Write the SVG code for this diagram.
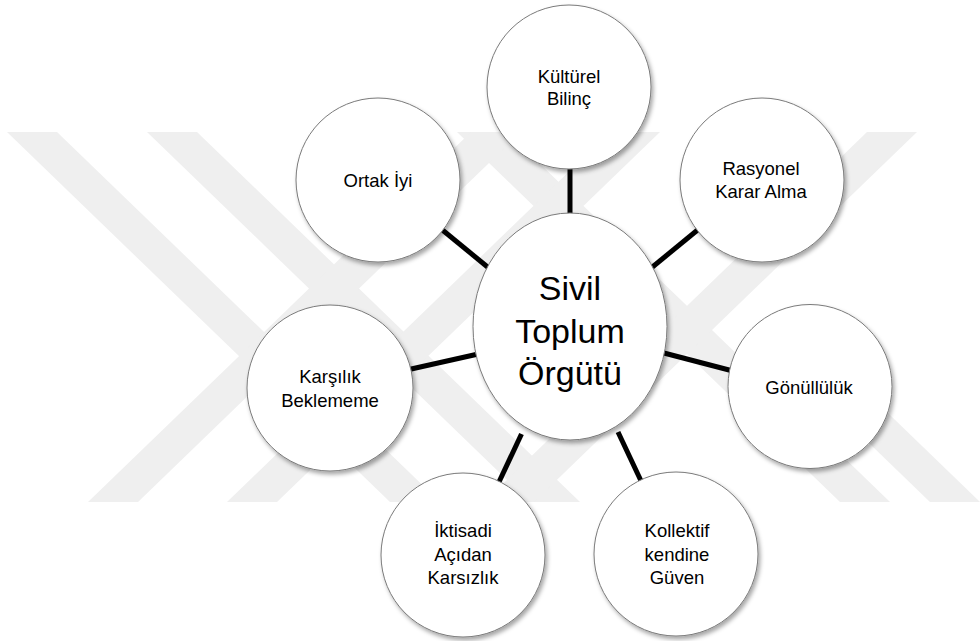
<svg xmlns="http://www.w3.org/2000/svg" width="980" height="641" viewBox="0 0 980 641">
<defs>
<style>
.wm{fill:#efefef;}
.node{fill:#ffffff;stroke:#7a7a7a;stroke-width:1;filter:url(#sh);}
.lbl{font-family:"Liberation Sans",Arial,sans-serif;font-size:18.5px;fill:#000;text-anchor:middle;}
.big{font-family:"Liberation Sans",Arial,sans-serif;font-size:34px;fill:#000;text-anchor:middle;}
.conn{stroke:#000;stroke-width:5;fill:none;}
</style>
<filter id="sh" x="-20%" y="-20%" width="140%" height="140%">
<feDropShadow dx="2" dy="3" stdDeviation="2" flood-color="#000" flood-opacity="0.35"/>
</filter>
<clipPath id="wmclip"><rect x="0" y="132" width="980" height="370"/></clipPath>
</defs>
<rect width="980" height="641" fill="#ffffff"/>
<g id="watermark" clip-path="url(#wmclip)">
<polygon class="wm" points="7,132 57,132 440,502 390,502"/>
<polygon class="wm" points="147,132 197,132 580,502 530,502"/>
<polygon class="wm" points="457,132 507,132 890,502 840,502"/>
<polygon class="wm" points="783,360 833,360 980,502 930,502"/>
<polygon class="wm" points="471,132 521,132 138,502 88,502"/>
<polygon class="wm" points="610,132 660,132 277,502 227,502"/>
<polygon class="wm" points="867,132 917,132 534,502 484,502"/>
</g>
<g id="connectors">
<line class="conn" x1="570" y1="165" x2="570" y2="216"/>
<line class="conn" x1="440" y1="228" x2="490" y2="269"/>
<line class="conn" x1="700" y1="228" x2="650" y2="269"/>
<line class="conn" x1="409" y1="369.5" x2="476" y2="354.5"/>
<line class="conn" x1="662" y1="352.5" x2="731" y2="370.5"/>
<line class="conn" x1="521.5" y1="434" x2="498.5" y2="483"/>
<line class="conn" x1="618" y1="432" x2="642" y2="483"/>
</g>
<g id="node-kulturel">
<circle class="node" cx="569" cy="87" r="82"/>
<text class="lbl" x="569" y="83">Kültürel</text>
<text class="lbl" x="569" y="105">Bilinç</text>
</g>
<g id="node-ortak">
<circle class="node" cx="378" cy="180" r="82"/>
<text class="lbl" x="378" y="187">Ortak İyi</text>
</g>
<g id="node-rasyonel">
<circle class="node" cx="762" cy="180" r="82"/>
<text class="lbl" x="761" y="175">Rasyonel</text>
<text class="lbl" x="761" y="198">Karar Alma</text>
</g>
<g id="node-karsilik">
<circle class="node" cx="330" cy="388" r="83"/>
<text class="lbl" x="330" y="383">Karşılık</text>
<text class="lbl" x="330" y="407">Beklememe</text>
</g>
<g id="node-gonulluluk">
<circle class="node" cx="810" cy="386.5" r="82"/>
<text class="lbl" x="809" y="394">Gönüllülük</text>
</g>
<g id="node-iktisadi">
<circle class="node" cx="463" cy="555" r="82"/>
<text class="lbl" x="463" y="537">İktisadi</text>
<text class="lbl" x="463" y="561">Açıdan</text>
<text class="lbl" x="463" y="584">Karsızlık</text>
</g>
<g id="node-kollektif">
<circle class="node" cx="676" cy="554" r="82"/>
<text class="lbl" x="677" y="537">Kollektif</text>
<text class="lbl" x="677" y="561">kendine</text>
<text class="lbl" x="677" y="584">Güven</text>
</g>
<g id="node-center">
<ellipse class="node" cx="570" cy="326.5" rx="97" ry="113.5"/>
<text class="big" x="570" y="300">Sivil</text>
<text class="big" x="570" y="343">Toplum</text>
<text class="big" x="570" y="385">Örgütü</text>
</g>
</svg>
